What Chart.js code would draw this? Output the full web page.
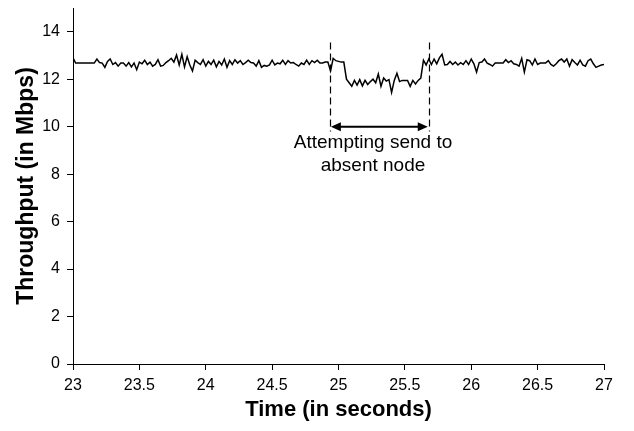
<!DOCTYPE html>
<html>
<head>
<meta charset="utf-8">
<script src="https://cdn.jsdelivr.net/npm/chart.js@4/dist/chart.umd.min.js"></script>
<style>
html,body{margin:0;padding:0;background:#fff;}
#wrap{width:634px;height:431px;position:relative;}
</style>
</head>
<body>
<div id="wrap"><canvas id="c" width="634" height="431"></canvas></div>
<script>
// Time samples (seconds)
const times = [
23.00,23.02,23.04,23.06,23.08,23.10,23.12,23.14,23.16,23.18,
23.20,23.22,23.24,23.26,23.28,23.30,23.32,23.34,23.36,23.38,
23.40,23.42,23.44,23.46,23.48,23.50,23.52,23.54,23.56,23.58,
23.60,23.62,23.64,23.66,23.68,23.70,23.72,23.74,23.76,23.78,
23.80,23.82,23.84,23.86,23.88,23.90,23.92,23.94,23.96,23.98,
24.00,24.02,24.04,24.06,24.08,24.10,24.12,24.14,24.16,24.18,
24.20,24.22,24.24,24.26,24.28,24.30,24.32,24.34,24.36,24.38,
24.40,24.42,24.44,24.46,24.48,24.50,24.52,24.54,24.56,24.58,
24.60,24.62,24.64,24.66,24.68,24.70,24.72,24.74,24.76,24.78,
24.80,24.82,24.84,24.86,24.88,24.90,24.92,24.94,24.96,24.98,
25.00,25.02,25.04,25.06,25.08,25.10,25.12,25.14,25.16,25.18,
25.20,25.22,25.24,25.26,25.28,25.30,25.32,25.34,25.36,25.38,
25.40,25.42,25.44,25.46,25.48,25.50,25.52,25.54,25.56,25.58,
25.60,25.62,25.64,25.66,25.68,25.70,25.72,25.74,25.76,25.78,
25.80,25.82,25.84,25.86,25.88,25.90,25.92,25.94,25.96,25.98,
26.00,26.02,26.04,26.06,26.08,26.10,26.12,26.14,26.16,26.18,
26.20,26.22,26.24,26.26,26.28,26.30,26.32,26.34,26.36,26.38,
26.40,26.42,26.44,26.46,26.48,26.50,26.52,26.54,26.56,26.58,
26.60,26.62,26.64,26.66,26.68,26.70,26.72,26.74,26.76,26.78,
26.80,26.82,26.84,26.86,26.88,26.90,26.92,26.94,26.96,26.98,
27.00
];
// Throughput (Mbps)
const throughput = [
12.90,12.68,12.68,12.68,12.68,12.68,12.68,12.68,12.68,12.85,
12.70,12.68,12.50,12.75,12.85,12.62,12.70,12.55,12.68,12.68,
12.55,12.70,12.52,12.68,12.40,12.72,12.65,12.80,12.62,12.72,
12.55,12.62,12.82,12.55,12.58,12.70,12.78,12.88,12.72,13.02,
12.60,13.05,12.52,12.95,12.60,12.35,12.80,12.70,12.62,12.82,
12.55,12.75,12.62,12.80,12.52,12.75,12.60,12.85,12.50,12.78,
12.62,12.82,12.68,12.78,12.62,12.70,12.80,12.70,12.68,12.55,
12.78,12.50,12.58,12.55,12.60,12.80,12.60,12.68,12.65,12.80,
12.62,12.78,12.68,12.70,12.62,12.55,12.68,12.62,12.80,12.62,
12.78,12.70,12.80,12.68,12.68,12.72,12.72,12.35,12.88,12.78,
12.75,12.72,12.72,12.00,11.85,11.70,11.95,11.75,11.98,11.72,
11.95,11.78,11.90,12.00,11.85,12.22,11.70,12.05,11.92,11.98,
11.44,11.95,12.25,11.90,11.95,11.95,11.95,11.70,11.95,11.80,
11.95,12.05,12.80,12.60,12.85,12.62,12.85,12.65,12.90,13.05,
12.60,12.62,12.75,12.62,12.72,12.60,12.70,12.62,12.78,12.62,
12.85,12.65,12.30,12.70,12.72,12.85,12.68,12.62,12.55,12.68,
12.68,12.68,12.68,12.82,12.70,12.78,12.65,12.62,12.55,12.88,
12.30,12.82,12.78,12.60,12.85,12.62,12.68,12.68,12.68,12.78,
12.62,12.55,12.65,12.78,12.85,12.72,12.85,12.55,12.82,12.70,
12.60,12.80,12.60,12.55,12.78,12.85,12.65,12.50,12.55,12.60,
12.62
];
const xTicks = [23, 23.5, 24, 24.5, 25, 25.5, 26, 26.5, 27];
const yTicks = [0, 2, 4, 6, 8, 10, 12, 14];
const markerTimes = [24.935, 25.68];
const annotationLines = ["Attempting send to", "absent node"];

const FONT = "'Liberation Sans', Arial, sans-serif";

const annotPlugin = {
  id: 'annot',
  afterDatasetsDraw(chart) {
    const {ctx, scales: {x, y}} = chart;
    ctx.save();
    ctx.strokeStyle = '#000';
    ctx.lineWidth = 1.2;
    ctx.setLineDash([7, 4]);
    const yTop = y.getPixelForValue(13.55);
    const yBot = y.getPixelForValue(9.8);
    markerTimes.forEach(t => {
      const px = Math.round(x.getPixelForValue(t)) + 0.5;
      ctx.beginPath();
      ctx.moveTo(px, yTop);
      ctx.lineTo(px, yBot);
      ctx.stroke();
    });
    ctx.setLineDash([]);
    // double arrow
    const ay = y.getPixelForValue(10.0);
    const x1 = x.getPixelForValue(markerTimes[0]) + 1;
    const x2 = x.getPixelForValue(markerTimes[1]) - 1;
    ctx.lineWidth = 2;
    ctx.beginPath();
    ctx.moveTo(x1 + 6, ay);
    ctx.lineTo(x2 - 6, ay);
    ctx.stroke();
    ctx.fillStyle = '#000';
    ctx.beginPath();
    ctx.moveTo(x1, ay); ctx.lineTo(x1 + 10, ay - 4.5); ctx.lineTo(x1 + 10, ay + 4.5); ctx.closePath(); ctx.fill();
    ctx.beginPath();
    ctx.moveTo(x2, ay); ctx.lineTo(x2 - 10, ay - 4.5); ctx.lineTo(x2 - 10, ay + 4.5); ctx.closePath(); ctx.fill();
    // text
    ctx.font = "19px " + FONT;
    ctx.textAlign = 'center';
    ctx.textBaseline = 'middle';
    const tx = x.getPixelForValue(25.26);
    ctx.fillText(annotationLines[0], tx, y.getPixelForValue(9.31));
    ctx.fillText(annotationLines[1], tx, y.getPixelForValue(8.35));
    ctx.restore();
  }
};

new Chart(document.getElementById('c'), {
  type: 'line',
  data: {
    datasets: [{
      data: times.map((t, i) => ({x: t, y: throughput[i]})),
      borderColor: '#000',
      borderWidth: 1.5,
      pointRadius: 0,
      tension: 0,
      fill: false
    }]
  },
  options: {
    responsive: false,
    animation: false,
    layout: {padding: {top: 8, right: 30, left: 0, bottom: 0}},
    plugins: {legend: {display: false}, tooltip: {enabled: false}},
    scales: {
      x: {
        type: 'linear',
        min: 23, max: 27,
        afterBuildTicks: s => { s.ticks = xTicks.map(v => ({value: v})); },
        afterFit: s => { s.height = 67; s.paddingLeft = 0; s.paddingRight = 0; },
        grid: {drawOnChartArea: false, drawTicks: true, tickLength: 6, color: '#000', lineWidth: 1},
        border: {display: true, color: '#000', width: 1},
        ticks: {color: '#000', font: {family: FONT, size: 16}, padding: 6, maxRotation: 0,
          callback: v => String(v)},
        title: {display: true, text: 'Time (in seconds)', color: '#000',
          font: {family: FONT, size: 22, weight: 'bold'}, padding: {top: 0, bottom: 8}}
      },
      y: {
        min: 0, max: 15,
        afterBuildTicks: s => { s.ticks = yTicks.map(v => ({value: v})); },
        afterFit: s => { s.width = 73; s.paddingTop = 0; s.paddingBottom = 0; },
        grid: {drawOnChartArea: false, drawTicks: true, tickLength: 6, color: '#000', lineWidth: 1},
        border: {display: true, color: '#000', width: 1},
        ticks: {color: '#000', font: {family: FONT, size: 16}, padding: 7,
          callback: v => String(v)},
        title: {display: true, text: 'Throughput (in Mbps)', color: '#000',
          font: {family: FONT, size: 23, weight: 'bold'}, padding: {top: 13, bottom: 0}}
      }
    }
  },
  plugins: [annotPlugin]
});
</script>
</body>
</html>
